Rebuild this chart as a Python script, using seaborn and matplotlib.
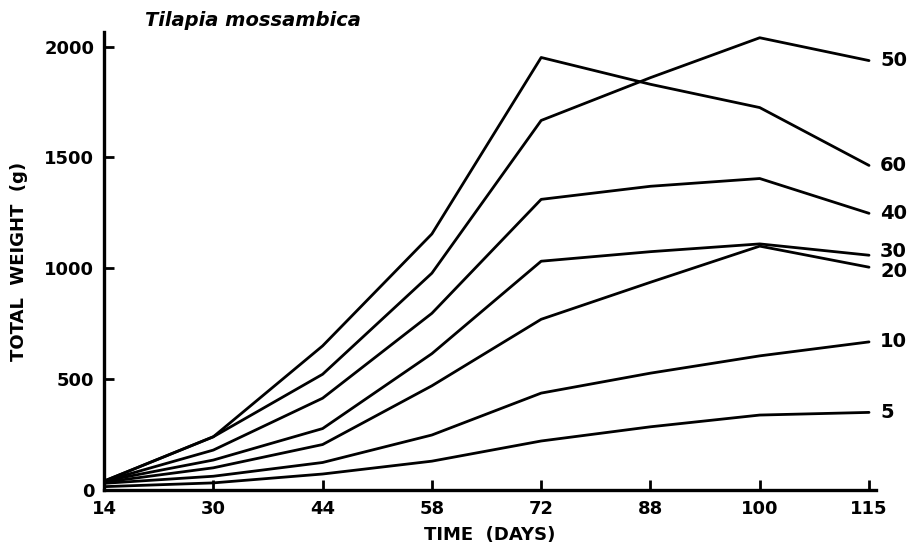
import numpy as np
import pandas as pd
import matplotlib
matplotlib.use("Agg")
import matplotlib.pyplot as plt
import seaborn as sns

# dias de muestreo (el eje es categorico, separacion uniforme)
days = [14, 30, 44, 58, 72, 88, 100, 115]

# peso total (g) por densidad de siembra
w5 = [15, 32, 72, 130, 221, 285, 338, 350]
w10 = [30, 62, 124, 248, 437, 527, 605, 668]
w20 = [35, 100, 205, 470, 770, 937, 1100, 1005]
w30 = [40, 135, 277, 615, 1032, 1075, 1110, 1059]
w40 = [40, 180, 414, 797, 1311, 1370, 1405, 1248]
w50 = [40, 240, 522, 978, 1667, 1860, 2040, 1937]
w60 = [40, 240, 650, 1155, 1951, 1830, 1725, 1464]

densities = [5, 10, 20, 30, 40, 50, 60]
series = [w5, w10, w20, w30, w40, w50, w60]

rows = []
for d, vals in zip(densities, series):
    for i, v in enumerate(vals):
        rows.append({"pos": i, "weight": v, "density": d})
df = pd.DataFrame(rows)

sns.set_style("ticks")
plt.rcParams["font.family"] = ["DejaVu Sans"]
plt.rcParams["text.color"] = "black"
plt.rcParams["axes.labelcolor"] = "black"

fig = plt.figure(figsize=(9.11, 5.44), dpi=100)
ax = fig.add_axes([0.1142, 0.0993, 0.8474, 0.8419])

sns.lineplot(data=df, x="pos", y="weight", hue="density",
             palette=["black"] * len(densities), linewidth=2.0,
             legend=False, ax=ax)

# etiquetas de densidad al final de cada curva (30 y 20 van casi juntas)
nudge = {30: 3, 20: -3}
for d, vals in zip(densities, series):
    ax.annotate(str(d), xy=(len(vals) - 1, vals[-1]),
                xytext=(8, nudge.get(d, 0)),
                textcoords="offset points", va="center", ha="left",
                fontsize=14, fontweight="bold", color="black",
                annotation_clip=False)

ax.set_xlim(0, 7.064)
ax.set_ylim(0, 2066)
ax.set_xticks(range(len(days)))
ax.set_xticklabels([str(d) for d in days])
ax.set_yticks([0, 500, 1000, 1500, 2000])

sns.despine(ax=ax)
for s in ["left", "bottom"]:
    ax.spines[s].set_linewidth(2.4)
    ax.spines[s].set_color("black")
ax.tick_params(axis="both", direction="in", length=7, width=2,
               colors="black", labelsize=13)
ax.tick_params(axis="x", pad=7)
ax.tick_params(axis="y", pad=7)
for lab in ax.get_xticklabels() + ax.get_yticklabels():
    lab.set_fontweight("bold")

ax.set_xlabel("TIME  (DAYS)", fontsize=13, fontweight="bold", labelpad=6)
ax.set_ylabel("TOTAL  WEIGHT  (g)", fontsize=13, fontweight="bold", labelpad=12)

fig.text(145 / 911, 1 - 20 / 544, "Tilapia mossambica", fontsize=14,
         fontweight="bold", fontstyle="italic", ha="left", va="center")

fig.savefig("out.png", dpi=100)
plt.close(fig)
